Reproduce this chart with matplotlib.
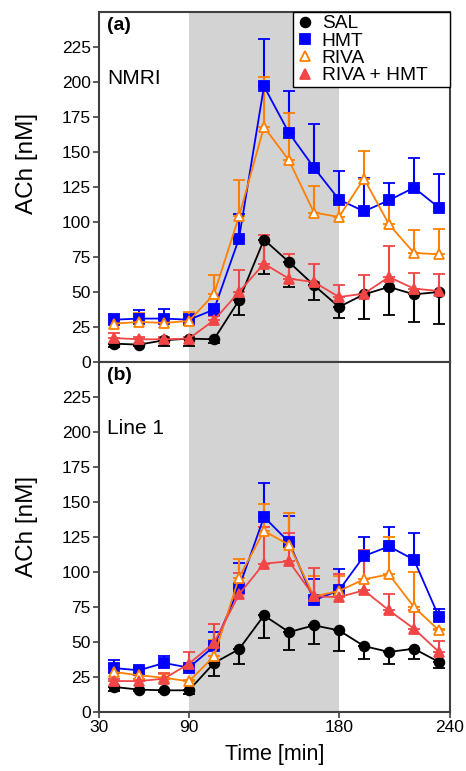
import matplotlib
matplotlib.use("Agg")
import matplotlib.pyplot as plt
import numpy as np

plt.rcParams["font.family"] = ["Liberation Sans", "DejaVu Sans"]

# sampling times [min]
times = [45, 60, 75, 90, 105, 120, 135, 150, 165, 180, 195, 210, 225, 240]
groups = ["SAL", "HMT", "RIVA", "RIVA + HMT"]

# panel (a) NMRI - means and one-sided errors
a_sal = [13.1, 12.4, 15.5, 16.7, 16.2, 44.0, 87.4, 71.4, 54.8, 39.3, 48.3, 53.6, 48.3, 50.0]
a_sal_err = [2.4, 1.0, 4.0, 5.0, 2.6, 10.7, 24.8, 17.8, 10.8, 7.9, 17.3, 20.3, 19.7, 22.6]
a_hmt = [30.2, 31.0, 31.0, 30.2, 37.4, 88.1, 196.9, 163.6, 138.8, 116.0, 107.6, 115.5, 124.5, 110.2]
a_hmt_err = [3.8, 5.9, 6.6, 4.3, 4.3, 17.4, 33.6, 30.0, 31.4, 20.4, 24.1, 12.4, 21.5, 23.8]
a_riva = [27.4, 28.6, 27.9, 29.3, 48.3, 104.0, 167.9, 144.0, 106.7, 103.6, 131.0, 98.3, 77.9, 76.9]
a_riva_err = [3.6, 6.4, 5.4, 6.4, 13.6, 25.8, 35.7, 33.9, 18.8, 13.1, 19.7, 17.2, 16.1, 18.3]
a_combo = [17.1, 16.2, 16.2, 16.7, 29.8, 50.0, 70.2, 59.5, 57.1, 46.4, 48.8, 60.7, 52.4, 50.7]
a_combo_err = [3.6, 2.0, 1.7, 1.5, 2.8, 16.0, 20.8, 17.4, 12.7, 8.4, 13.1, 21.9, 11.2, 11.9]

# panel (b) Line 1
b_sal = [17.9, 16.0, 15.5, 15.5, 35.0, 44.8, 69.0, 57.1, 61.9, 58.3, 47.1, 42.9, 45.2, 35.7]
b_sal_err = [2.9, 1.0, 1.0, 2.4, 9.5, 10.3, 15.9, 12.6, 13.1, 14.7, 9.0, 8.4, 7.1, 4.3]
b_hmt = [31.4, 29.8, 35.0, 31.7, 46.9, 88.8, 139.3, 121.4, 79.8, 86.9, 111.4, 118.3, 108.8, 67.9]
b_hmt_err = [5.5, 1.6, 4.8, 1.5, 10.2, 17.9, 24.5, 18.6, 15.4, 15.0, 13.6, 13.8, 19.3, 5.9]
b_riva = [28.6, 26.2, 24.5, 21.9, 39.8, 96.0, 129.3, 119.5, 82.6, 86.4, 94.8, 98.3, 75.0, 58.3]
b_riva_err = [5.4, 4.0, 2.9, 1.0, 11.4, 13.5, 19.5, 22.4, 14.3, 10.7, 17.8, 26.7, 25.0, 1.0]
b_combo = [22.1, 22.1, 23.8, 34.5, 49.3, 84.0, 106.0, 107.6, 82.6, 82.1, 86.9, 72.6, 59.5, 42.9]
b_combo_err = [1.7, 1.7, 4.0, 8.3, 13.3, 15.5, 26.0, 20.5, 20.2, 16.2, 28.6, 11.4, 13.1, 7.8]

y_ticks = [0, 25, 50, 75, 100, 125, 150, 175, 200, 225]
x_tick_pos = [36, 90, 180, 246.6]
x_tick_labels = ["30", "90", "180", "240"]

styles = {
    "SAL": dict(color="black", marker="o", mfc="black", ms=7, down=True),
    "HMT": dict(color="#0000ff", marker="s", mfc="#0000ff", ms=6.5, down=False),
    "RIVA": dict(color="#ff8000", marker="^", mfc="white", ms=7.5, down=False),
    "RIVA + HMT": dict(color="#f24646", marker="^", mfc="#f24646", ms=7.5, down=False),
}

panels = [
    ("(a)", "NMRI", 0.566, [a_sal, a_hmt, a_riva, a_combo],
     [a_sal_err, a_hmt_err, a_riva_err, a_combo_err]),
    ("(b)", "Line 1", 0.531, [b_sal, b_hmt, b_riva, b_combo],
     [b_sal_err, b_hmt_err, b_riva_err, b_combo_err]),
]

fig = plt.figure(figsize=(4.66, 7.71), dpi=100)
ax_top = fig.add_axes([0.2124, 0.5305, 0.7532, 0.4540])
ax_bot = fig.add_axes([0.2124, 0.0765, 0.7532, 0.4540])

for ax, (tag, name, label_y, means, errs) in zip([ax_top, ax_bot], panels):
    ax.axvspan(90, 180, color="#d3d3d3", zorder=0, lw=0)
    for g, m, e in zip(groups, means, errs):
        st = styles[g]
        e = np.array(e)
        zero = np.zeros_like(e)
        yerr = [e, zero] if st["down"] else [zero, e]
        ax.errorbar(times, m, yerr=yerr, color=st["color"], marker=st["marker"],
                    mfc=st["mfc"], mec=st["color"], mew=1.3, ms=st["ms"], lw=1.3,
                    elinewidth=1.5, capsize=4.5, capthick=1.5, label=g, zorder=3)
    ax.set_xlim(36, 246.6)
    ax.set_ylim(0, 250)
    ax.set_yticks(y_ticks)
    ax.set_xticks(x_tick_pos)
    ax.tick_params(direction="out", length=4, width=1.2, labelsize=12.5,
                   colors="#404040", labelcolor="black", pad=2)
    for sp in ax.spines.values():
        sp.set_linewidth(1.5)
        sp.set_color("#404040")
    ax.set_ylabel("ACh [nM]", fontsize=17.5)
    ax.yaxis.set_label_coords(-0.174, label_y)
    ax.text(0.023, 0.985, tag, transform=ax.transAxes, fontsize=14,
            fontweight="bold", va="top", ha="left")
    ax.text(0.023, 0.81, name, transform=ax.transAxes, fontsize=15,
            va="center", ha="left")

ax_top.set_xticklabels([])
ax_bot.set_xticklabels(x_tick_labels)
ax_bot.set_xlabel("Time [min]", fontsize=15.5, labelpad=6)

handles = [
    plt.Line2D([], [], ls="none", marker=styles[g]["marker"], color=styles[g]["color"],
               mfc=styles[g]["mfc"], mec=styles[g]["color"], mew=1.3, ms=7)
    for g in groups
]
# legend box spans from x~293 px to the right spine, like the original
leg = ax_top.legend(handles, groups, loc="upper left", mode="expand",
                    bbox_to_anchor=(0.553, 0.0, 0.447, 1.0), fontsize=13.8,
                    frameon=True, fancybox=False, edgecolor="black",
                    borderaxespad=0, labelspacing=0.0, handlelength=0.95,
                    handletextpad=0.4, borderpad=0.15, framealpha=1)
leg.get_frame().set_linewidth(1.0)
leg.set_zorder(5)

fig.savefig("out.png", dpi=100)
